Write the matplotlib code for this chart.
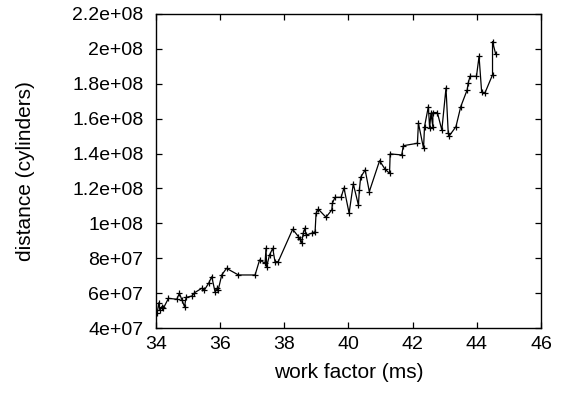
import numpy as np
import matplotlib
matplotlib.use("Agg")
import matplotlib.pyplot as plt

plt.rcParams['font.family'] = ['Liberation Sans', 'DejaVu Sans']

# work factor (ms) vs seek distance (cylinders)
work_factor = [34.04, 34.09, 34.12, 34.18, 34.23, 34.39, 34.65, 34.73, 34.81, 34.89,
               34.94, 35.12, 35.20, 35.43, 35.51, 35.64, 35.74, 35.84, 35.90, 35.94,
               36.05, 36.20, 36.57, 37.09, 37.23, 37.40, 37.43, 37.45, 37.54, 37.64,
               37.71, 37.81, 38.26, 38.44, 38.49, 38.54, 38.59, 38.64, 38.68, 38.85,
               38.96, 38.99, 39.06, 39.30, 39.48, 39.50, 39.58, 39.77, 39.86, 40.02,
               40.15, 40.31, 40.34, 40.38, 40.52, 40.65, 40.97, 41.14, 41.28, 41.30,
               41.66, 41.71, 42.15, 42.18, 42.34, 42.37, 42.49, 42.53, 42.57, 42.63,
               42.63, 42.77, 42.91, 43.04, 43.11, 43.14, 43.35, 43.50, 43.70, 43.73,
               43.79, 43.99, 44.07, 44.15, 44.25, 44.49, 44.49, 44.59]
distance = [4.88, 5.45, 5.03, 5.22, 5.13, 5.70, 5.65, 5.99, 5.61, 5.22,
            5.76, 5.83, 6.02, 6.28, 6.18, 6.56, 6.94, 6.08, 6.28, 6.18,
            7.04, 7.42, 7.04, 7.04, 7.90, 7.71, 8.57, 7.51, 8.19, 8.57,
            7.80, 7.80, 9.66, 9.24, 9.09, 8.86, 9.43, 9.72, 9.33, 9.43,
            9.52, 10.58, 10.81, 10.35, 10.77, 11.15, 11.49, 11.49, 12.03, 10.58,
            12.26, 11.05, 11.91, 12.64, 13.06, 11.82, 13.59, 13.10, 12.87, 13.98,
            13.92, 14.45, 14.59, 15.74, 14.30, 15.54, 16.69, 15.45, 16.31, 15.54,
            16.35, 16.35, 15.35, 17.76, 15.16, 15.01, 15.54, 16.69, 17.65, 18.03,
            18.43, 18.43, 19.57, 17.55, 17.46, 18.51, 20.42, 19.69]
distance = np.array(distance) * 1e7

x_ticks = [34, 36, 38, 40, 42, 44, 46]
y_ticks = [4e7, 6e7, 8e7, 1e8, 1.2e8, 1.4e8, 1.6e8, 1.8e8, 2e8, 2.2e8]
y_tick_labels = ['4e+07', '6e+07', '8e+07', '1e+08', '1.2e+08', '1.4e+08',
                 '1.6e+08', '1.8e+08', '2e+08', '2.2e+08']

fig = plt.figure(figsize=(5.61, 3.95), dpi=100)
ax = fig.add_axes([0.278, 0.1696, 0.6863, 0.795])

ax.plot(work_factor, distance, '-', color='black', lw=0.9,
        marker='+', markersize=5, markeredgewidth=0.9)

ax.set_xlim(34, 46)
ax.set_ylim(4e7, 2.2e8)
ax.set_xticks(x_ticks)
ax.set_xticklabels([str(t) for t in x_ticks])
ax.set_yticks(y_ticks)
ax.set_yticklabels(y_tick_labels)
ax.tick_params(direction='in', top=True, right=True, length=4, width=0.9,
               labelsize=14)
ax.tick_params(axis='y', pad=9)
ax.tick_params(axis='x', pad=6)
for s in ax.spines.values():
    s.set_linewidth(1.0)

ax.set_xlabel('work factor (ms)', fontsize=15, labelpad=7)
ax.set_ylabel('distance (cylinders)', fontsize=15, labelpad=27)

fig.savefig('out.png', dpi=100)
